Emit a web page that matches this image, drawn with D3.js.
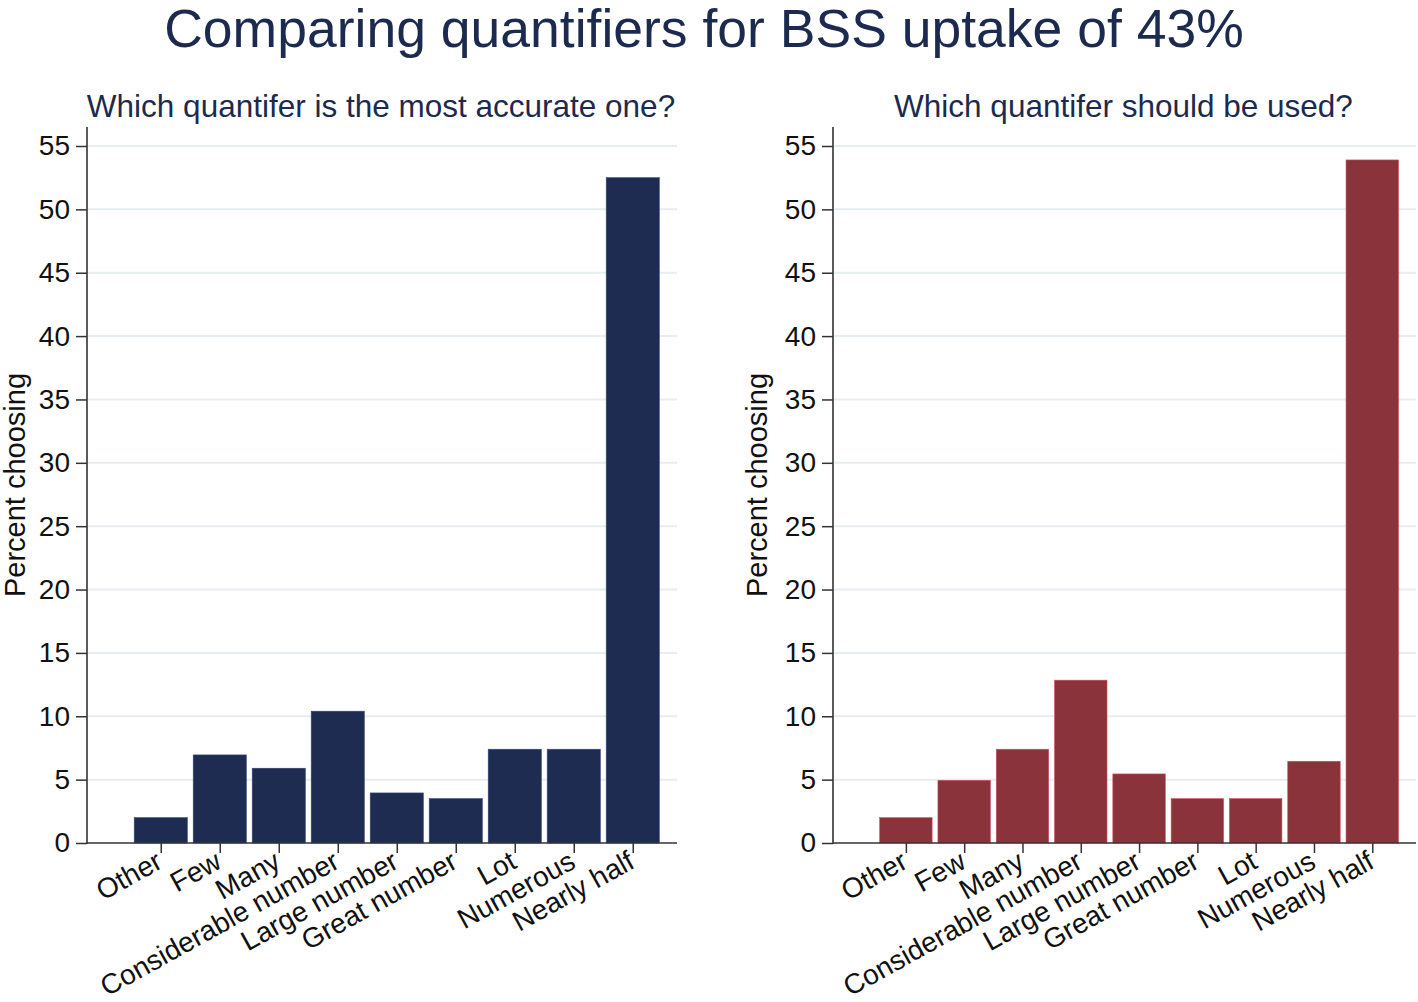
<!DOCTYPE html>
<html>
<head>
<meta charset="utf-8">
<script src="https://cdn.jsdelivr.net/npm/d3@7"></script>
<style>
  html, body { margin: 0; padding: 0; background: #fff; }
  svg { display: block; font-family: "Liberation Sans", Arial, sans-serif; }
</style>
</head>
<body>
<svg id="chart" width="1418" height="1002"></svg>
<script>
const categories = ["Other", "Few", "Many", "Considerable number", "Large number", "Great number", "Lot", "Numerous", "Nearly half"];
const accurateValues = [2.0, 6.95, 5.9, 10.4, 3.95, 3.5, 7.4, 7.4, 52.5];
const usedValues = [2.0, 4.95, 7.4, 12.85, 5.45, 3.5, 3.5, 6.45, 53.9];
const yTicks = [0, 5, 10, 15, 20, 25, 30, 35, 40, 45, 50, 55];
const mainTitle = "Comparing quantifiers for BSS uptake of 43%";
const panelTitles = ["Which quantifer is the most accurate one?", "Which quantifer should be used?"];
const yLabel = "Percent choosing";

const svg = d3.select("#chart");
const navy = "#1b2a4e";

svg.append("text")
  .attr("x", 704).attr("y", 47)
  .attr("text-anchor", "middle")
  .attr("font-size", 53.5)
  .attr("fill", navy)
  .text(mainTitle);

const panels = [
  { values: accurateValues, color: "#1f2c52", x0: 87, x1: 677, title: panelTitles[0], ylabX: 14 },
  { values: usedValues, color: "#8b333b", x0: 833, x1: 1416, title: panelTitles[1], ylabX: 756 }
];

const y = d3.scaleLinear().domain([0, 55]).range([843, 146]);

panels.forEach(p => {
  const g = svg.append("g");
  const x = d3.scaleLinear().domain([-0.25, 9.75]).range([p.x0, p.x1]);
  const unit = x(1) - x(0);

  // gridlines
  g.append("g").selectAll("line")
    .data(yTicks.filter(t => t > 0))
    .join("line")
    .attr("x1", p.x0 + 1).attr("x2", p.x1)
    .attr("y1", d => y(d)).attr("y2", d => y(d))
    .attr("stroke", "#e6eef1").attr("stroke-width", 2);

  // bars
  g.append("g").selectAll("rect")
    .data(p.values)
    .join("rect")
    .attr("x", (d, i) => x(i + 1) - unit * 0.45)
    .attr("width", unit * 0.9)
    .attr("y", d => y(d))
    .attr("height", d => y(0) - y(d))
    .attr("fill", p.color)
    .attr("stroke", d3.color(p.color).brighter(1.2))
    .attr("stroke-width", 0.6);

  // y axis
  const yAxis = d3.axisLeft(y).tickValues(yTicks).tickSize(11).tickPadding(6);
  const ya = g.append("g").attr("transform", `translate(${p.x0},0)`).call(yAxis);
  ya.select(".domain").remove();
  ya.selectAll(".tick line").attr("stroke", "#333").attr("stroke-width", 1.5);
  ya.selectAll(".tick text").attr("font-size", 28).attr("fill", "#111")
    .attr("font-family", "Liberation Sans, Arial, sans-serif");
  g.append("line").attr("x1", p.x0).attr("x2", p.x0).attr("y1", 127).attr("y2", 844)
    .attr("stroke", "#333").attr("stroke-width", 1.6);

  // x axis
  const xAxis = d3.axisBottom(x).tickValues(d3.range(1, 10)).tickSize(10).tickPadding(4)
    .tickFormat(d => categories[d - 1]);
  const xa = g.append("g").attr("transform", `translate(0,${y(0)})`).call(xAxis);
  xa.select(".domain").remove();
  xa.selectAll(".tick line").attr("stroke", "#333").attr("stroke-width", 1.5);
  xa.selectAll(".tick text")
    .attr("font-size", 28).attr("fill", "#111")
    .attr("font-family", "Liberation Sans, Arial, sans-serif")
    .attr("text-anchor", "end")
    .attr("dy", null).attr("y", null)
    .attr("transform", "translate(3,24) rotate(-29)");
  g.append("line").attr("x1", p.x0).attr("x2", p.x1).attr("y1", y(0)).attr("y2", y(0))
    .attr("stroke", "#333").attr("stroke-width", 1.6);

  // panel title
  g.append("text")
    .attr("x", (p.x0 + p.x1) / 2 - 1).attr("y", 117)
    .attr("text-anchor", "middle")
    .attr("font-size", 31.5).attr("fill", navy)
    .text(p.title);

  // y label
  g.append("text")
    .attr("transform", `translate(${p.ylabX + 11},485) rotate(-90)`)
    .attr("text-anchor", "middle")
    .attr("font-size", 29).attr("fill", "#111")
    .text(yLabel);
});
</script>
</body>
</html>
